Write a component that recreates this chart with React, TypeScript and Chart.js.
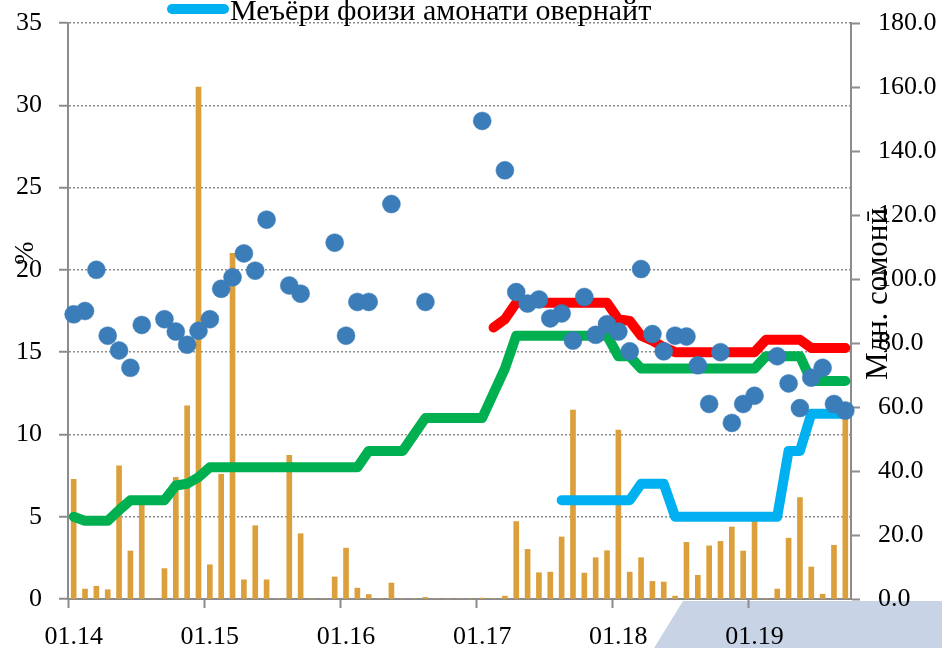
import React, { useEffect, useRef } from 'react';
import { Chart, registerables } from 'chart.js';

Chart.register(...registerables);

const FONT = "'Liberation Serif', 'DejaVu Serif', serif";

const months: string[] = [
  '01.14','02.14','03.14','04.14','05.14','06.14','07.14','08.14','09.14','10.14','11.14','12.14',
  '01.15','02.15','03.15','04.15','05.15','06.15','07.15','08.15','09.15','10.15','11.15','12.15',
  '01.16','02.16','03.16','04.16','05.16','06.16','07.16','08.16','09.16','10.16','11.16','12.16',
  '01.17','02.17','03.17','04.17','05.17','06.17','07.17','08.17','09.17','10.17','11.17','12.17',
  '01.18','02.18','03.18','04.18','05.18','06.18','07.18','08.18','09.18','10.18','11.18','12.18',
  '01.19','02.19','03.19','04.19','05.19','06.19','07.19','08.19','09.19',
];

// Volume (right axis, mln somoni)
const volume: number[] = [
  37.4, 3.1, 4.0, 2.9, 41.6, 15.0, 32.0, 0, 9.5, 38.0, 60.4, 160.0,
  10.7, 39.0, 108.0, 6.0, 22.9, 6.0, 0, 44.9, 20.4, 0, 0, 6.9,
  15.9, 3.4, 1.4, 0, 5.0, 0, 0, 0.5, 0, 0, 0, 0,
  0.3, 0, 0.9, 24.2, 15.5, 8.2, 8.4, 19.4, 59.0, 8.1, 12.9, 15.1,
  52.8, 8.4, 12.9, 5.5, 5.3, 0.9, 17.7, 7.4, 16.6, 18.0, 22.5, 15.0,
  26.0, 0, 3.1, 19.0, 31.7, 10.0, 1.5, 16.8, 58.0,
];

// Refinancing rate (green)
const refinRate: (number | null)[] = [
  5.0, 4.75, 4.75, 4.75, 5.4, 6.0, 6.0, 6.0, 6.0, 6.9, 7.0, 7.4,
  8.0, 8.0, 8.0, 8.0, 8.0, 8.0, 8.0, 8.0, 8.0, 8.0, 8.0, 8.0,
  8.0, 8.0, 9.0, 9.0, 9.0, 9.0, 10.0, 11.0, 11.0, 11.0, 11.0, 11.0,
  11.0, 12.5, 14.0, 16.0, 16.0, 16.0, 16.0, 16.0, 16.0, 16.0, 16.0, 16.0,
  14.75, 14.75, 14.0, 14.0, 14.0, 14.0, 14.0, 14.0, 14.0, 14.0, 14.0, 14.0,
  14.0, 14.75, 14.75, 14.75, 14.75, 13.25, 13.25, 13.25, 13.25,
];

// Upper corridor (red)
const upperRate: (number | null)[] = [
  null, null, null, null, null, null, null, null, null, null, null, null,
  null, null, null, null, null, null, null, null, null, null, null, null,
  null, null, null, null, null, null, null, null, null, null, null, null,
  null, 16.5, 17.0, 18.0, 18.0, 18.0, 18.0, 18.0, 18.0, 18.0, 18.0, 18.0,
  17.0, 16.9, 16.0, 15.7, 15.3, 15.0, 15.0, 15.0, 15.0, 15.0, 15.0, 15.0,
  15.0, 15.75, 15.75, 15.75, 15.75, 15.25, 15.25, 15.25, 15.25,
];

// Overnight deposit rate (cyan)
const overnightRate: (number | null)[] = [
  null, null, null, null, null, null, null, null, null, null, null, null,
  null, null, null, null, null, null, null, null, null, null, null, null,
  null, null, null, null, null, null, null, null, null, null, null, null,
  null, null, null, null, null, null, null, 6.0, 6.0, 6.0, 6.0, 6.0,
  6.0, 6.0, 7.0, 7.0, 7.0, 5.0, 5.0, 5.0, 5.0, 5.0, 5.0, 5.0,
  5.0, 5.0, 5.0, 9.0, 9.0, 11.25, 11.25, 11.25, 11.25,
];

// Auction yields (blue dots)
const yields: (number | null)[] = [
  17.3, 17.5, 20.0, 16.0, 15.1, 14.05, 16.65, null, 17.0, 16.25, 15.45, 16.3,
  17.0, 18.85, 19.55, 21.0, 19.95, 23.05, null, 19.05, 18.55, null, null, 21.65,
  16.0, 18.05, 18.05, null, 24.0, null, null, 18.05, null, null, null, null,
  29.05, null, 26.05, 18.65, 17.95, 18.2, 17.05, 17.35, 15.7, 18.35, 16.05, 16.7,
  16.25, 15.05, 20.05, 16.1, 15.05, 16.0, 15.95, 14.2, 11.85, 15.0, 10.7, 11.85,
  12.35, null, 14.75, 13.1, 11.6, 13.45, 14.05, 11.85, 11.45,
];

const legendLabel = 'Меъёри фоизи амонати овернайт';
const leftTitle = '%';
const rightTitle = 'Млн. сомонӣ';

const AXIS = '#8c8c8c';

export default function App() {
  const ref = useRef<HTMLCanvasElement | null>(null);

  useEffect(() => {
    if (!ref.current) return;

    const bgShape = {
      id: 'bgShape',
      beforeDraw(chart: any) {
        const ctx = chart.ctx;
        ctx.save();
        ctx.fillStyle = '#C8D3E6';
        ctx.beginPath();
        ctx.moveTo(683, 601);
        ctx.lineTo(942, 601);
        ctx.lineTo(942, 648);
        ctx.lineTo(654, 648);
        ctx.closePath();
        ctx.fill();
        ctx.restore();
      },
    };

    const overlay = {
      id: 'overlay',
      afterDraw(chart: any) {
        const ctx = chart.ctx;
        const area = chart.chartArea;
        ctx.save();
        // legend item
        ctx.strokeStyle = '#00B0F0';
        ctx.lineWidth = 10;
        ctx.lineCap = 'round';
        ctx.beginPath();
        ctx.moveTo(area.left + 104, 9);
        ctx.lineTo(area.left + 156, 9);
        ctx.stroke();
        ctx.fillStyle = '#000';
        ctx.font = `30px ${FONT}`;
        ctx.textAlign = 'left';
        ctx.textBaseline = 'alphabetic';
        ctx.fillText(legendLabel, area.left + 162, 20);
        // axis titles
        ctx.textAlign = 'center';
        ctx.textBaseline = 'middle';
        ctx.font = `28px ${FONT}`;
        ctx.save();
        ctx.translate(26, 253);
        ctx.rotate(-Math.PI / 2);
        ctx.fillText(leftTitle, 0, 0);
        ctx.restore();
        ctx.font = `31px ${FONT}`;
        ctx.save();
        ctx.translate(879, 294);
        ctx.rotate(-Math.PI / 2);
        ctx.fillText(rightTitle, 0, 0);
        ctx.restore();
        ctx.restore();
      },
    };

    const tickFont = { family: FONT, size: 26 };

    const chart = new Chart(ref.current, {
      data: {
        labels: months,
        datasets: [
          {
            type: 'line',
            data: yields,
            yAxisID: 'y',
            showLine: false,
            pointRadius: 9,
            pointHoverRadius: 9,
            pointBackgroundColor: '#3A7DB9',
            pointBorderColor: '#3A7DB9',
            pointBorderWidth: 0.5,
            order: 0,
          } as any,
          {
            type: 'line',
            data: overnightRate,
            yAxisID: 'y',
            borderColor: '#00B0F0',
            borderWidth: 10,
            pointRadius: 0,
            borderCapStyle: 'round',
            borderJoinStyle: 'round',
            tension: 0,
            order: 1,
          },
          {
            type: 'line',
            data: upperRate,
            yAxisID: 'y',
            borderColor: '#FF0000',
            borderWidth: 10,
            pointRadius: 0,
            borderCapStyle: 'round',
            borderJoinStyle: 'round',
            tension: 0,
            order: 2,
          },
          {
            type: 'line',
            data: refinRate,
            yAxisID: 'y',
            borderColor: '#00B050',
            borderWidth: 10,
            pointRadius: 0,
            borderCapStyle: 'round',
            borderJoinStyle: 'round',
            tension: 0,
            order: 3,
          },
          {
            type: 'bar',
            data: volume,
            yAxisID: 'y1',
            backgroundColor: '#DBA03B',
            barThickness: 5,
            order: 4,
          },
        ],
      },
      options: {
        responsive: false,
        animation: false,
        events: [],
        layout: { padding: { top: 23, left: 0, right: 0, bottom: 0 } },
        plugins: {
          legend: { display: false },
          tooltip: { enabled: false },
        },
        scales: {
          x: {
            type: 'category',
            offset: true,
            grid: {
              offset: true,
              drawOnChartArea: false,
              drawTicks: true,
              tickLength: 9,
              tickWidth: 2,
              tickColor: (c: any) => (c.index % 12 === 0 && c.index < months.length ? AXIS : 'rgba(0,0,0,0)'),
            },
            border: { color: AXIS, width: 2 },
            ticks: {
              autoSkip: false,
              maxRotation: 0,
              minRotation: 0,
              padding: 14,
              color: '#000',
              font: tickFont,
              callback: (_v: any, i: number) => (i % 12 === 0 ? months[i] : ''),
            },
            afterFit: (s: any) => {
              s.height = 49;
              s.paddingLeft = 0;
              s.paddingRight = 0;
            },
          },
          y: {
            position: 'left',
            min: 0,
            max: 35,
            ticks: { stepSize: 5, padding: 17, color: '#000', font: tickFont },
            grid: {
              color: AXIS,
              lineWidth: 1.5,
              drawTicks: true,
              tickLength: 9,
              tickColor: AXIS,
              tickWidth: 2,
            },
            border: { color: AXIS, width: 2, dash: [2, 2] },
            afterFit: (s: any) => {
              s.width = 68;
              s.paddingTop = 0;
              s.paddingBottom = 0;
            },
          },
          y1: {
            position: 'right',
            min: 0,
            max: 180,
            ticks: {
              stepSize: 20,
              padding: 18,
              color: '#000',
              font: tickFont,
              callback: (v: any) => Number(v).toFixed(1),
            },
            grid: {
              drawOnChartArea: false,
              drawTicks: true,
              tickLength: 9,
              tickColor: AXIS,
              tickWidth: 2,
            },
            border: { color: AXIS, width: 2 },
            afterFit: (s: any) => {
              s.width = 91;
              s.paddingTop = 0;
              s.paddingBottom = 0;
            },
          },
        },
      } as any,
      plugins: [bgShape, overlay],
    } as any);

    return () => chart.destroy();
  }, []);

  return (
    <div style={{ position: 'fixed', left: 0, top: 0, width: 942, height: 648, background: '#fff' }}>
      <canvas ref={ref} width={942} height={648} style={{ display: 'block' }} />
    </div>
  );
}
